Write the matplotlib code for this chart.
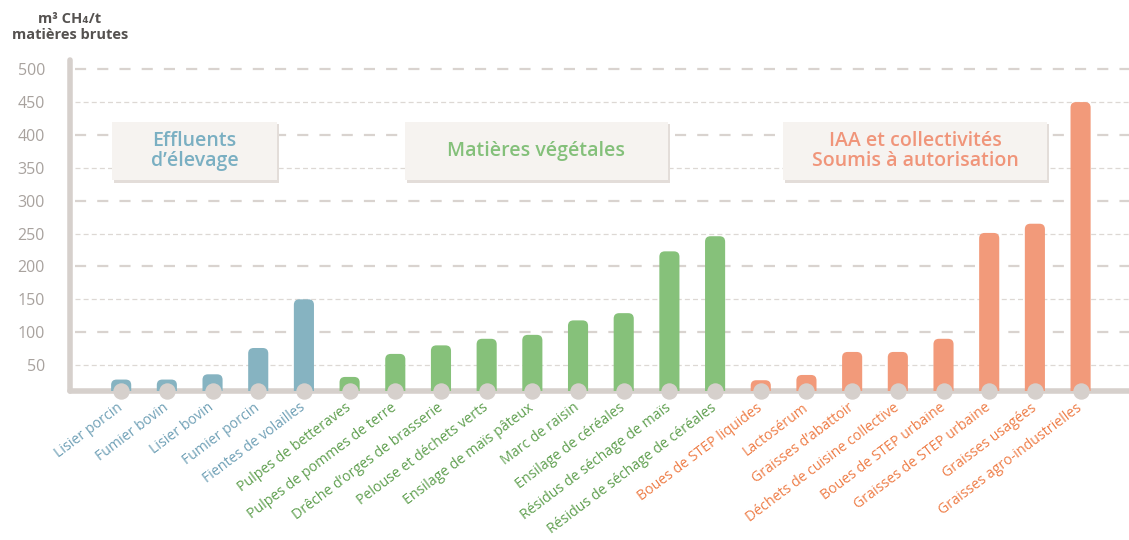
import matplotlib.pyplot as plt
from matplotlib.patches import FancyBboxPatch, Rectangle

plt.rcParams['font.family'] = ['Open Sans', 'DejaVu Sans']

# data
categories = ["Lisier porcin", "Fumier bovin", "Lisier bovin", "Fumier porcin",
              "Fientes de volailles", "Pulpes de betteraves", "Pulpes de pommes de terre",
              "Drêche d\u2019orges de brasserie", "Pelouse et déchets verts",
              "Ensilage de maïs pâteux", "Marc de raisin", "Ensilage de céréales",
              "Résidus de séchage de maïs", "Résidus de séchage de céréales",
              "Boues de STEP liquides", "Lactosérum", "Graisses d\u2019abattoir",
              "Déchets de cuisine collective", "Boues de STEP urbaine",
              "Graisses de STEP urbaine", "Graisses usagées", "Graisses agro-industrielles"]
values = [28, 28, 36, 76, 150, 32, 67, 80, 90, 96, 118, 129, 223, 246,
          27, 35, 70, 70, 90, 251, 265, 450]
groups = [0] * 5 + [1] * 9 + [2] * 8
group_names = ["Effluents\nd\u2019élevage", "Matières végétales",
               "IAA et collectivités\nSoumis à autorisation"]
yticks = [50, 100, 150, 200, 250, 300, 350, 400, 450, 500]

bar_colors = ["#86b3c1", "#86c17a", "#f29a7a"]
label_colors = ["#6fa0b6", "#5f9f4f", "#ee7d47"]
title_colors = ["#7aafc2", "#84c07a", "#f0957a"]
grey = "#d6d0cc"

fig = plt.figure(figsize=(11.29, 5.4), dpi=100)
ax = fig.add_axes([70 / 1129, 1 - 391 / 540, 1 - 70 / 1129, (391 - 60) / 540])
ax.set_xlim(-1.12, 22.06)
ax.set_ylim(10.6, 514)

# px -> data aspect for rounded tops
x_per_px = 1 / 45.7
y_per_px = 1 / 0.658
for i, v in enumerate(values):
    w = 0.44
    p = FancyBboxPatch((i - w / 2, 0), w, v,
                       boxstyle="round,pad=0,rounding_size=0.12",
                       mutation_aspect=y_per_px / x_per_px,
                       fc=bar_colors[groups[i]], ec="none", zorder=3)
    ax.add_patch(p)

# grey dots at bar base
ax.scatter(range(len(values)), [11] * len(values), s=140, color=grey,
           zorder=5, clip_on=False, linewidths=0)

# grid
for t in yticks:
    if t % 100 == 0:
        ax.axhline(t, xmin=0.005, color="#d9d3cf", lw=1.6, ls=(0, (5, 5)), zorder=1)
    else:
        ax.axhline(t, xmin=0.005, color="#ddd8d4", lw=0.9, ls=(0, (4, 2.5)), zorder=1)

for s in ["top", "right"]:
    ax.spines[s].set_visible(False)
for s in ["left", "bottom"]:
    ax.spines[s].set_color(grey)
    ax.spines[s].set_linewidth(4)
    ax.spines[s].set_capstyle("round")

ax.set_yticks(yticks)
ax.set_yticklabels([str(t) for t in yticks], color="#a8a29e", fontsize=11.5)
ax.tick_params(axis="y", length=0, pad=18)
ax.set_xticks(range(len(categories)))
ax.set_xticklabels(categories, rotation=37, ha="right", va="center",
                   rotation_mode="anchor", fontsize=10.2)
ax.tick_params(axis="x", length=0, pad=11)
for lbl, g in zip(ax.get_xticklabels(), groups):
    lbl.set_color(label_colors[g])

# group boxes
boxes = [(-0.2, 3.41), (6.21, 11.97), (14.49, 20.26)]
for (x0, x1), name, c in zip(boxes, group_names, title_colors):
    ax.add_patch(Rectangle((x0 + 0.05, 327), x1 - x0, 89, fc="#e3ddd9", ec="none", zorder=6))
    ax.add_patch(Rectangle((x0, 331), x1 - x0, 89, fc="#f6f3f0", ec="none", zorder=7))
    ax.text((x0 + x1) / 2, 375.5, name, ha="center", va="center", color=c,
            fontsize=14, fontweight="semibold", linespacing=1.0, zorder=8)

fig.text(70 / 1129, 1 - 27 / 540, "m³ CH\u2084/t\nmatières brutes", ha="center",
         va="center", fontsize=10.5, fontweight="bold", color="#555250", linespacing=1.1)

fig.savefig("out.png", dpi=100, facecolor="white")
